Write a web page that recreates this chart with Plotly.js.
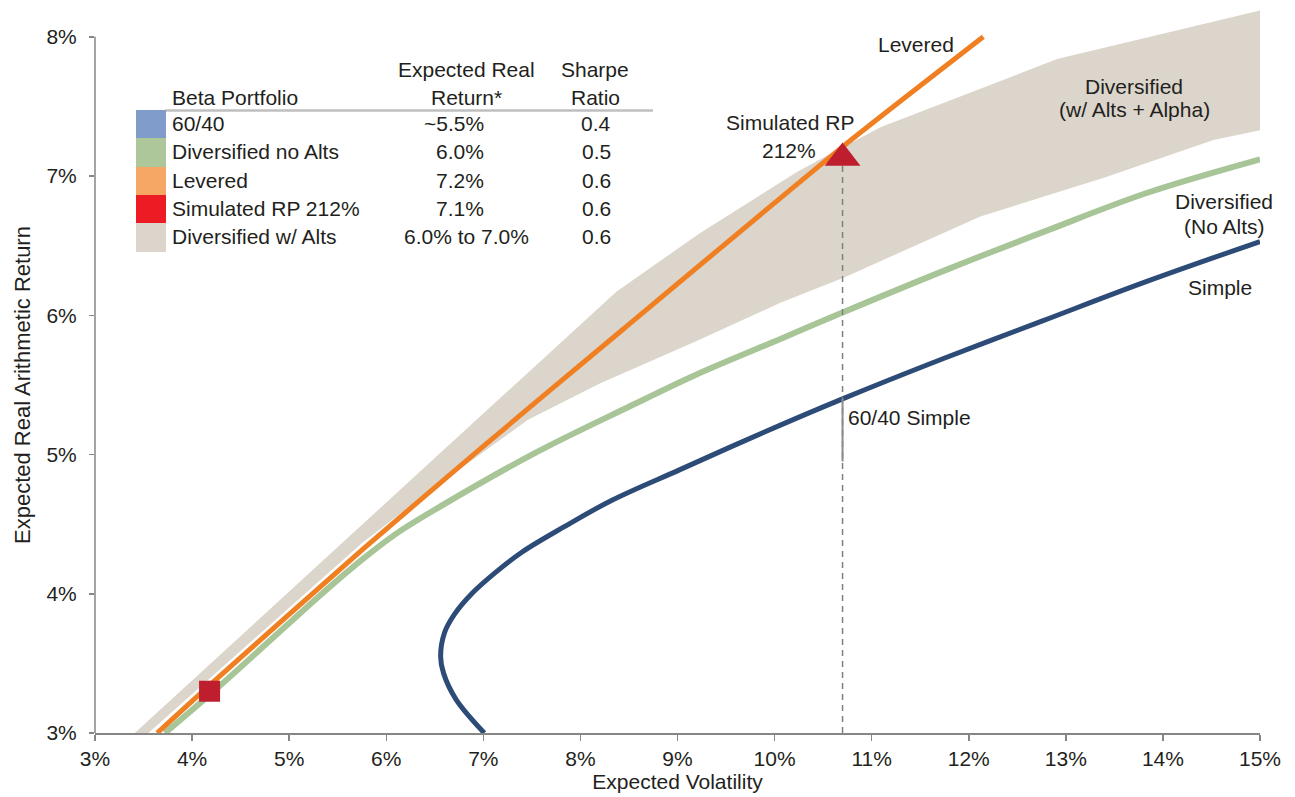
<!DOCTYPE html>
<html>
<head>
<meta charset="utf-8">
<script src="https://cdn.plot.ly/plotly-3.0.1.min.js"></script>
<style>html,body{margin:0;padding:0;background:#fff;}#chart{width:1295px;height:797px;}</style>
</head>
<body>
<div id="chart"></div>
<script>
// ---------------- DATA (percent units) ----------------
const xTickVals = [3,4,5,6,7,8,9,10,11,12,13,14,15];
const xTickText = ["3%","4%","5%","6%","7%","8%","9%","10%","11%","12%","13%","14%","15%"];
const yTickVals = [3,4,5,6,7,8];
const yTickText = ["3%","4%","5%","6%","7%","8%"];

// Diversified w/ Alts + Alpha band
const bandUpperX = [3.41, 8.37, 9.23, 10.23, 10.60, 11.09, 12.91, 15.0];
const bandUpperY = [3.00, 6.17, 6.59, 7.03, 7.17, 7.35, 7.84, 8.19];
const bandLowerX = [3.55, 5.76, 6.47, 7.46, 8.20, 9.18, 10.06, 10.71, 12.12, 13.40, 14.52, 15.0];
const bandLowerY = [3.00, 4.37, 4.75, 5.25, 5.51, 5.81, 6.09, 6.27, 6.71, 6.99, 7.26, 7.33];

// Simple frontier
const simpleX = [7.01, 6.72, 6.59, 6.56, 6.60, 6.70, 6.88, 7.12, 7.40, 7.83, 8.32, 9.02, 9.89, 10.70, 11.74, 12.76, 13.82, 15.0];
const simpleY = [3.00, 3.24, 3.43, 3.55, 3.72, 3.85, 4.00, 4.15, 4.30, 4.48, 4.67, 4.89, 5.16, 5.40, 5.69, 5.96, 6.24, 6.53];

// Diversified (No Alts) frontier
const divX = [3.72, 4.19, 5.37, 5.76, 6.10, 6.54, 7.53, 8.52, 9.18, 10.06, 10.70, 11.78, 12.81, 13.84, 15.0];
const divY = [3.00, 3.28, 4.02, 4.25, 4.43, 4.62, 5.01, 5.35, 5.57, 5.83, 6.02, 6.33, 6.61, 6.88, 7.12];

// Levered line
const levX = [3.64, 4.19, 5.76, 6.95, 8.44, 10.70, 12.15];
const levY = [3.00, 3.35, 4.32, 5.03, 5.90, 7.21, 8.00];

// Points
const lowPointX = [4.18], lowPointY = [3.30];
const simRPX = [10.70], simRPY = [7.13];
const simple6040Y = [5.40, 4.95];

// Table
const tableNames   = ["60/40", "Diversified no Alts", "Levered", "Simulated RP 212%", "Diversified w/ Alts"];
const tableReturns = ["~5.5%", "6.0%", "7.2%", "7.1%", "6.0% to 7.0%"];
const tableSharpe  = ["0.4", "0.5", "0.6", "0.6", "0.6"];
const tableColors  = ["#7f9ccb", "#adc79a", "#f6a766", "#ed1c24", "#dbd5cb"];

// ---------------- LAYOUT HELPERS ----------------
const W = 1295, H = 797, ML = 95, MR = 35, MT = 9, MB = 64;
const PW = W - ML - MR, PH = H - MT - MB;
const px = v => (v - ML) / PW;            // pixel x -> paper
const py = v => (H - MB - v) / PH;        // pixel y -> paper
const FONT = "Liberation Sans, Arial, sans-serif";
const TXT = "#231f20";
const FS = 21;

const traces = [
  { x: bandUpperX.concat(bandLowerX.slice().reverse()),
    y: bandUpperY.concat(bandLowerY.slice().reverse()),
    mode: "lines", fill: "toself", fillcolor: "#dbd5cb", line: {width: 0, color: "#dbd5cb"},
    hoverinfo: "skip", showlegend: false },
  { x: simpleX, y: simpleY, mode: "lines", line: {color: "#2d4b77", width: 5, shape: "spline", smoothing: 1}, showlegend: false },
  { x: divX, y: divY, mode: "lines", line: {color: "#a7c597", width: 6, shape: "spline", smoothing: 1}, showlegend: false },
  { x: levX, y: levY, mode: "lines", line: {color: "#f07f22", width: 5, shape: "spline", smoothing: 0.6}, showlegend: false },
  { x: [simRPX[0], simRPX[0]], y: [3, simRPY[0]], mode: "lines", line: {color: "#7f7f7f", width: 1.5, dash: "6px,5px"}, showlegend: false },
  { x: [simRPX[0], simRPX[0]], y: simple6040Y, mode: "lines", line: {color: "#8c8c8c", width: 2}, showlegend: false },
  { x: lowPointX, y: lowPointY, mode: "markers", marker: {symbol: "square", size: 21, color: "#be1e2d"}, showlegend: false },
  { x: simRPX, y: simRPY, mode: "markers", marker: {symbol: "triangle-up", size: 31, color: "#be1e2d"}, showlegend: false }
];

const ann = [];
const shapes = [];
function txt(text, x, y, xanchor, size, extra) {
  ann.push(Object.assign({ text: text, xref: "paper", yref: "paper", x: px(x), y: py(y),
    xanchor: xanchor || "center", yanchor: "middle", showarrow: false,
    font: {family: FONT, size: size || FS, color: TXT} }, extra || {}));
}

// Table header
txt("Beta Portfolio", 170, 97, "left");
txt("Expected Real", 466, 69, "center");
txt("Return*", 466, 97, "center");
txt("Sharpe", 595, 69, "center");
txt("Ratio", 595, 97, "center");
shapes.push({type: "line", xref: "paper", yref: "paper", x0: px(165), x1: px(653), y0: py(110.5), y1: py(110.5),
  line: {color: "#bfbfbf", width: 2.5}});
const rowTop = [110, 138, 167, 195, 223, 252];
tableNames.forEach((n, i) => {
  const yc = (rowTop[i] + rowTop[i + 1]) / 2 - 0.5;
  shapes.push({type: "rect", xref: "paper", yref: "paper", x0: px(136), x1: px(166), y0: py(rowTop[i + 1]), y1: py(rowTop[i]),
    fillcolor: tableColors[i], line: {width: 0}});
  txt(n, 170, yc, "left");
  if (tableReturns[i].length < 7) txt(tableReturns[i], 486, yc, "right");
  else txt(tableReturns[i], 466, yc, "center");
  txt(tableSharpe[i], 596, yc, "center");
});

// Chart labels
txt("Levered", 916, 45, "center");
txt("Simulated RP", 856, 123, "right");
txt("212%", 818, 150, "right");
txt("Diversified", 1134, 86, "center");
txt("(w/ Alts + Alpha)", 1134, 110, "center");
txt("Diversified", 1224, 202, "center");
txt("(No Alts)", 1224, 226, "center");
txt("Simple", 1220, 287, "center");
txt("60/40 Simple", 846, 417, "left");

// Y-axis title
ann.push({ text: "Expected Real Arithmetic Return", xref: "paper", yref: "paper", x: px(22), y: py(385),
  xanchor: "center", yanchor: "middle", textangle: -90, showarrow: false,
  font: {family: FONT, size: 22, color: TXT} });

// Y axis line (only up to 8%)
shapes.push({type: "line", xref: "paper", yref: "y", x0: 0, x1: 0, y0: 3, y1: 8, line: {color: "#868686", width: 1.5}});

const layout = {
  width: W, height: H,
  margin: {l: ML, r: MR, t: MT, b: MB, pad: 0},
  paper_bgcolor: "#ffffff", plot_bgcolor: "#ffffff",
  showlegend: false,
  font: {family: FONT, color: TXT},
  xaxis: {
    range: [3, 15], tickvals: xTickVals, ticktext: xTickText,
    showgrid: false, zeroline: false, showline: true, linecolor: "#868686", linewidth: 1.5,
    ticks: "outside", ticklen: 6, tickwidth: 1.5, tickcolor: "#868686",
    tickfont: {family: FONT, size: FS, color: TXT},
    title: {text: "Expected Volatility", font: {family: FONT, size: FS, color: TXT}, standoff: 5}
  },
  yaxis: {
    range: [3, 8.2], tickvals: yTickVals, ticktext: yTickText,
    showgrid: false, zeroline: false, showline: false,
    ticks: "outside", ticklen: 5, tickwidth: 1.5, tickcolor: "#868686",
    ticklabelstandoff: 8,
    tickfont: {family: FONT, size: FS, color: TXT}
  },
  annotations: ann,
  shapes: shapes
};

Plotly.newPlot("chart", traces, layout, {displayModeBar: false, staticPlot: true});
</script>
</body>
</html>
